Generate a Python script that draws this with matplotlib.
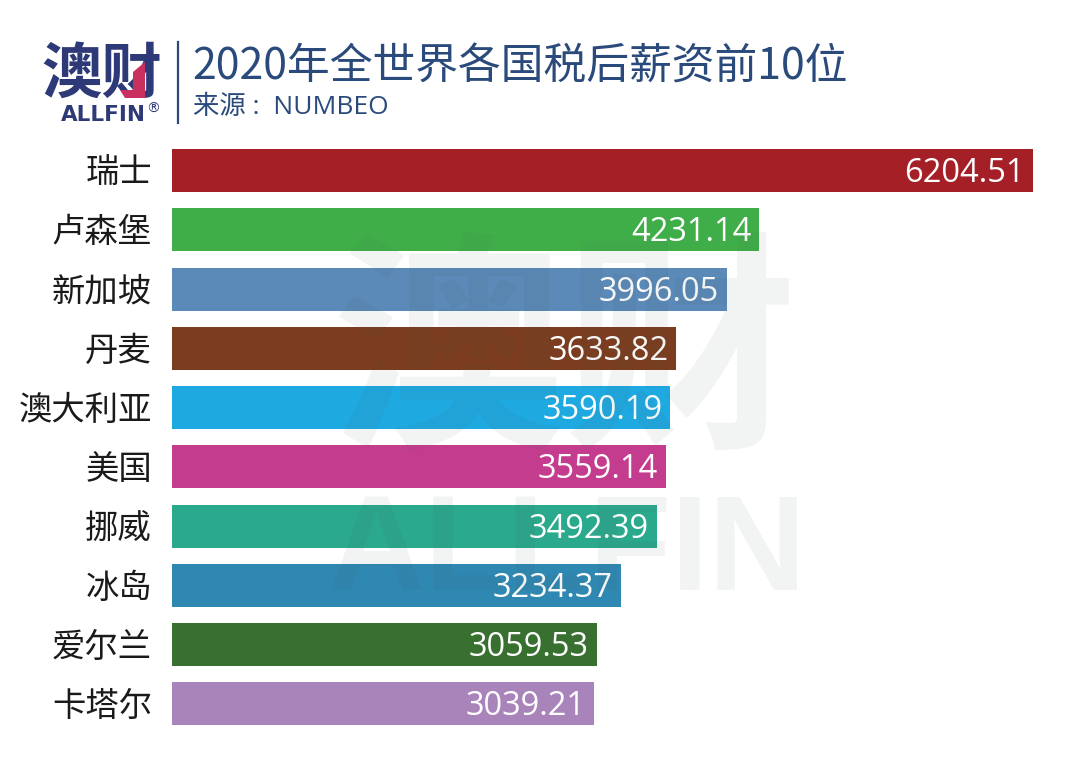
import matplotlib
matplotlib.use("Agg")
import matplotlib.pyplot as plt

plt.rcParams["font.family"] = ["Noto Sans CJK SC", "DejaVu Sans"]

# ── Data ───────────────────────────────────────────────────────────────────────
countries = ["瑞士", "卢森堡", "新加坡", "丹麦", "澳大利亚",
             "美国", "挪威", "冰岛", "爱尔兰", "卡塔尔"]
salaries = [6204.51, 4231.14, 3996.05, 3633.82, 3590.19,
            3559.14, 3492.39, 3234.37, 3059.53, 3039.21]
colors = ["#a51f27", "#3fae49", "#5b8ab8", "#7b3c1f", "#1ea9e1",
          "#c43c8e", "#2aa98c", "#2f88b2", "#38702f", "#a884ba"]

title = "2020年全世界各国税后薪资前10位"
source = "来源 :  NUMBEO"

W, H = 1080, 767
NAVY = "#2b4a7c"
LOGO = "#2e3a78"

fig = plt.figure(figsize=(W / 100, H / 100), dpi=100, facecolor="white")

# axes placed so that 0 sits at x=172px and the longest bar ends at x=1033px
ax = fig.add_axes([172 / W, 1 - 733.5 / H, (1033 - 172) / W, (733.5 - 141) / H])
ax.set_xlim(0, max(salaries))
ax.set_ylim(len(countries) - 0.5, -0.5)
ax.axis("off")
ax.barh(range(len(countries)), salaries, height=0.725, color=colors, zorder=2)

for i, (name, val) in enumerate(zip(countries, salaries)):
    ax.annotate(name, (0, i), xytext=(-20, -3), textcoords="offset pixels",
                ha="right", va="center", fontsize=24, color="#1a1a1a")
    ax.annotate(f"{val:.2f}", (val, i), xytext=(-8, -3), textcoords="offset pixels",
                ha="right", va="center", fontsize=23.5, color="white",
                family=["Open Sans", "DejaVu Sans"], zorder=4)

# ── Header ─────────────────────────────────────────────────────────────────────
fig.text(41 / W, 1 - 75 / H, "澳财", fontsize=43.5, fontweight="black", color=LOGO,
         ha="left", va="center")
fig.add_artist(plt.Polygon([(133 / W, 1 - 72 / H), (145 / W, 1 - 62 / H), (145 / W, 1 - 98 / H),
                            (125 / W, 1 - 98 / H), (120 / W, 1 - 90 / H), (133 / W, 1 - 90 / H)],
                           closed=True, color="#c9305f", lw=0, zorder=6))
fig.text(61 / W, 1 - 115 / H, "ALLFIN", fontsize=15.5, fontweight="bold", color=LOGO,
         ha="left", va="center", family=["DejaVu Sans"])
fig.text(153 / W, 1 - 109 / H, "®", fontsize=10, color=LOGO, ha="center", va="center",
         family=["DejaVu Sans"])
fig.add_artist(plt.Line2D([177.5 / W, 177.5 / W], [1 - 42 / H, 1 - 123 / H],
                          color=NAVY, lw=1.6))
fig.text(192 / W, 1 - 68 / H, title, fontsize=30.8, color=NAVY, ha="left", va="center")
fig.text(193 / W, 1 - 108 / H, source, fontsize=19, color=NAVY, ha="left", va="center",
         family=["Open Sans", "Noto Sans CJK SC"])

# ── Watermark ──────────────────────────────────────────────────────────────────
fig.text(565 / W, 1 - 362 / H, "澳财", fontsize=168, fontweight="black", color="#4a5a55",
         alpha=0.07, ha="center", va="center", zorder=5)
fig.text(567 / W, 1 - 555 / H, "ALLFIN", fontsize=97, fontweight="bold", color="#4a5a55",
         alpha=0.07, ha="center", va="center", zorder=5,
         family=["Liberation Sans", "DejaVu Sans"])

fig.savefig("out.png", dpi=100, facecolor="white")
